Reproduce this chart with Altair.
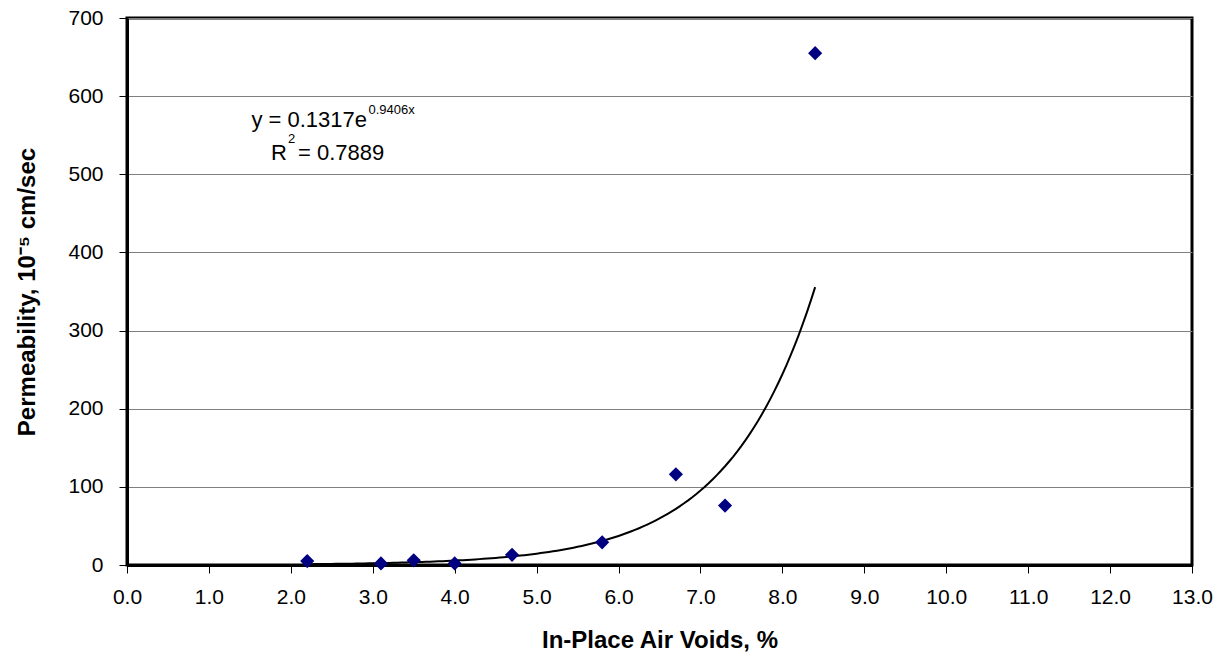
import altair as alt
import pandas as pd

# --- data ---
air_voids = [2.2, 3.1, 3.5, 4.0, 4.7, 5.8, 6.7, 7.3, 8.4]
permeability = [5, 2, 6, 2, 13, 29, 116, 76, 655]

# trend line from the printed equation y = 0.1317 e^(0.9406 x)
coef_a = 0.1317
coef_b = 0.9406
fit_start = 2.2
fit_stop = 8.4

x_ticks = list(range(0, 14))
y_ticks = list(range(0, 701, 100))

# equation annotation (text, anchor x, anchor y, alignment, size)
ann_text = ["y = 0.1317e", "0.9406x", "R", "2", "= 0.7889"]
ann_x = [2.93, 2.948, 1.953, 1.965, 2.087]
ann_y = [560.5, 577.1, 518.3, 540.0, 518.3]
ann_align = ["right", "left", "right", "left", "left"]
ann_size = [22, 13, 22, 13, 22]

FONT = "Liberation Sans"

pts = pd.DataFrame({"x": air_voids, "y": permeability})
ann = pd.DataFrame({"x": ann_x, "y": ann_y, "t": ann_text})

xscale = alt.Scale(domain=[0, 13], nice=False, zero=False)
yscale = alt.Scale(domain=[0, 700], nice=False, zero=True)

W, H = 1065, 547

xaxis = alt.Axis(
    values=x_ticks, format=".1f", title="In-Place Air Voids, %", grid=False,
    tickSize=8, tickColor="black", tickWidth=1, domainColor="black", domainWidth=3,
    labelFont=FONT, labelFontSize=21, labelColor="black", labelPadding=13,
    labelFlush=False, labelOverlap=False,
    titleFont=FONT, titleFontSize=24, titleFontWeight="bold", titleColor="black",
    titleX=W / 2, titleY=75, titleBaseline="middle",
)
yaxis = alt.Axis(
    values=y_ticks, format="d", title="Permeability, 10\u207b\u2075 cm/sec", grid=True,
    gridColor="#808080", gridWidth=1, gridOpacity=1,
    tickSize=8, tickColor="black", tickWidth=1, domainColor="black", domainWidth=3,
    labelFont=FONT, labelFontSize=21, labelColor="black", labelPadding=16,
    labelFlush=False, labelOverlap=False,
    titleFont=FONT, titleFontSize=24, titleFontWeight="bold", titleColor="black",
    titleX=-100, titleY=H / 2, titleBaseline="middle", titleAngle=-90,
)

points = alt.Chart(pts).mark_point(
    shape="diamond", filled=True, color="#000080", size=200, opacity=1
).encode(
    x=alt.X("x:Q", scale=xscale, axis=xaxis),
    y=alt.Y("y:Q", scale=yscale, axis=yaxis),
)

curve = alt.Chart(
    alt.sequence(start=int(fit_start * 100), stop=int(fit_stop * 100) + 1, step=5, as_="i")
).transform_calculate(
    x="datum.i / 100",
    y="%s * exp(%s * datum.i / 100)" % (coef_a, coef_b),
).mark_line(color="black", strokeWidth=2).encode(
    x=alt.X("x:Q", scale=xscale),
    y=alt.Y("y:Q", scale=yscale),
)

texts = []
for i in range(len(ann_text)):
    texts.append(
        alt.Chart(ann.iloc[[i]]).mark_text(
            font=FONT, fontSize=ann_size[i], align=ann_align[i], baseline="alphabetic",
            color="black",
        ).encode(
            x=alt.X("x:Q", scale=xscale),
            y=alt.Y("y:Q", scale=yscale),
            text="t:N",
        )
    )

chart = alt.layer(curve, points, *texts).properties(
    width=W, height=H,
    autosize=alt.AutoSizeParams(type="none"),
    padding={"left": 127, "top": 18, "right": 36, "bottom": 93},
    background="white",
).configure_view(stroke="black", strokeWidth=3)

chart.save("out.html", embed_options={"renderer": "svg", "actions": False})
